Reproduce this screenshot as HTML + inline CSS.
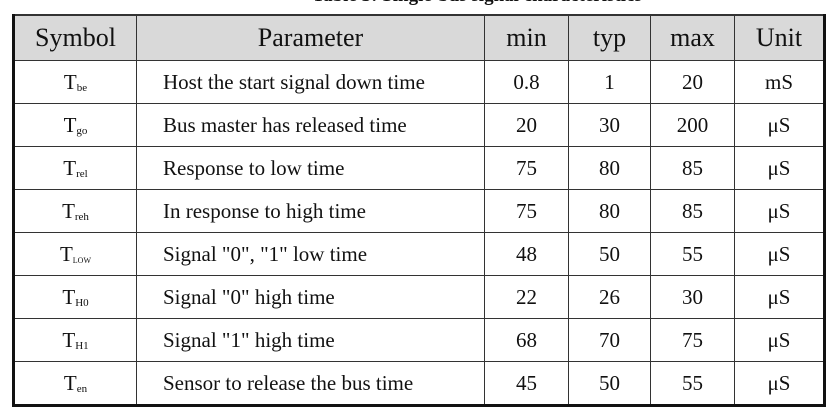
<!DOCTYPE html>
<html><head><meta charset="utf-8"><style>
body{margin:0;width:834px;height:420px;background:#fff;overflow:hidden;position:relative;font-family:"Liberation Serif",serif;color:#111}
.title{position:absolute;top:-15px;left:0;width:834px;text-align:center;font-weight:bold;font-size:19px;padding-left:120px;box-sizing:border-box}
table{position:absolute;left:12px;top:14px;border-collapse:collapse;border:3px solid #111;border-top:2px solid #333}
td,th{border:1.5px solid #333;text-align:center;font-weight:normal;padding:0}
th{background:#d9d9d9;height:44px;font-size:26px}
td{height:42px;font-size:21px}
td.p{text-align:left;padding-left:26px}
sub{font-size:11px;vertical-align:-2px}
</style></head><body>
<div class="title">Table 3: Single-bus signal characteristics</div>
<table>
<tr><th style="width:121px">Symbol</th><th style="width:347px">Parameter</th><th style="width:83px">min</th><th style="width:81px">typ</th><th style="width:83px">max</th><th style="width:88px">Unit</th></tr>
<tr><td>T<sub>be</sub></td><td class="p">Host the start signal down time</td><td>0.8</td><td>1</td><td>20</td><td>mS</td></tr>
<tr><td>T<sub>go</sub></td><td class="p">Bus master has released time</td><td>20</td><td>30</td><td>200</td><td>μS</td></tr>
<tr><td>T<sub>rel</sub></td><td class="p">Response to low time</td><td>75</td><td>80</td><td>85</td><td>μS</td></tr>
<tr><td>T<sub>reh</sub></td><td class="p">In response to high time</td><td>75</td><td>80</td><td>85</td><td>μS</td></tr>
<tr><td>T<sub style="font-size:8px">LOW</sub></td><td class="p">Signal "0", "1" low time</td><td>48</td><td>50</td><td>55</td><td>μS</td></tr>
<tr><td>T<sub>H0</sub></td><td class="p">Signal "0" high time</td><td>22</td><td>26</td><td>30</td><td>μS</td></tr>
<tr><td>T<sub>H1</sub></td><td class="p">Signal "1" high time</td><td>68</td><td>70</td><td>75</td><td>μS</td></tr>
<tr><td>T<sub>en</sub></td><td class="p">Sensor to release the bus time</td><td>45</td><td>50</td><td>55</td><td>μS</td></tr>
</table>
</body></html>
